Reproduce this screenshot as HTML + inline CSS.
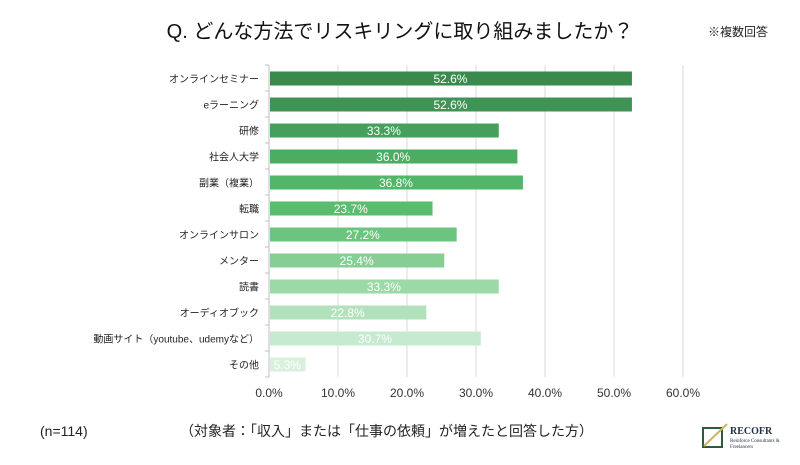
<!DOCTYPE html>
<html><head><meta charset="utf-8"><style>
html,body{margin:0;padding:0;background:#fff;}
body{width:800px;height:460px;overflow:hidden;font-family:"Liberation Sans","Noto Sans CJK JP",sans-serif;}
</style></head><body>
<svg id="c" width="800" height="460" xmlns="http://www.w3.org/2000/svg" style="font-family:'Liberation Sans','Noto Sans CJK JP',sans-serif">
<text x="400" y="38" text-anchor="middle" font-size="20" fill="#111">Q. どんな方法でリスキリングに取り組みましたか？</text>
<text x="738" y="36" text-anchor="middle" font-size="12" fill="#222">※複数回答</text>
<text x="40" y="436" font-size="14" fill="#222">(n=114)</text>
<text x="180" y="436" font-size="14" fill="#222">（対象者：「収入」または「仕事の依頼」が増えたと回答した方）</text>
<g>
<polygon points="703,428 722,428 722,447 703,447" fill="none" stroke="#2f5b3a" stroke-width="2"/>
<line x1="704" y1="446" x2="727" y2="424" stroke="#c8b560" stroke-width="2"/>
<text x="730" y="434" font-size="10" font-weight="bold" font-family="Liberation Serif,serif" fill="#234">RECOFR</text>
<text x="730" y="442" font-size="5" font-family="Liberation Serif,serif" fill="#234">Reinforce Consultants &amp;</text>
<text x="730" y="448" font-size="5" font-family="Liberation Serif,serif" fill="#234">Freelancers</text>
</g>
<g id="plot"></g>
</svg>
<script>
const categories=["オンラインセミナー","eラーニング","研修","社会人大学","副業（複業）","転職","オンラインサロン","メンター","読書","オーディオブック","動画サイト（youtube、udemyなど）","その他"];
const values=[52.6,52.6,33.3,36.0,36.8,23.7,27.2,25.4,33.3,22.8,30.7,5.3];
const ticks=[0,10,20,30,40,50,60];
const colors=["#3a8a4e","#3f9455","#46a05c","#4cad62","#52b567","#5abd6d","#6cc57e","#85cf94","#9bd9a7","#b2e2bb","#c6ead0","#d8f1dc"];
const NS="http://www.w3.org/2000/svg";
const g=document.getElementById('plot');
const x0=269,pxPer=6.9,yTop=65,rowH=26;
const xs=v=>x0+v*pxPer;
const yc=i=>yTop+rowH*i+13.5;
function mk(t,a){const e=document.createElementNS(NS,t);for(const k in a)e.setAttribute(k,a[k]);g.appendChild(e);return e;}
const yBot=yTop+rowH*categories.length;
ticks.forEach((t,i)=>{
 const l=mk('line',{x1:xs(t),x2:xs(t),y1:yTop,y2:yBot,stroke:'#d9d9d9','stroke-width':1});
 
 
 const tx=mk('text',{x:xs(t),y:yBot+20,'text-anchor':'middle','font-size':12,fill:'#333'});
 tx.textContent=t.toFixed(1)+'%';
 
 
});
const ax=mk('line',{x1:x0,x2:x0,y1:yTop,y2:yBot,stroke:'#bfbfbf','stroke-width':1});


for(let i=0;i<=categories.length;i++){const tk=mk('line',{x1:x0-4,x2:x0,y1:yTop+rowH*i,y2:yTop+rowH*i,stroke:'#bfbfbf'});
 
 }
categories.forEach((c,i)=>{
 const b=mk('rect',{x:x0+1,y:yc(i)-7,width:xs(values[i])-x0-1,height:14,fill:colors[i]});
 
 
 const lb=mk('text',{x:x0-10,y:yc(i)+4,'text-anchor':'end','font-size':10,fill:'#222'});
 lb.textContent=c;
 
 
 const vl=mk('text',{x:(x0+xs(values[i]))/2,y:yc(i)+4.5,'text-anchor':'middle','font-size':12,fill:'#fff'});
 vl.textContent=values[i].toFixed(1)+'%';
 
 
});
</script>
</body></html>
